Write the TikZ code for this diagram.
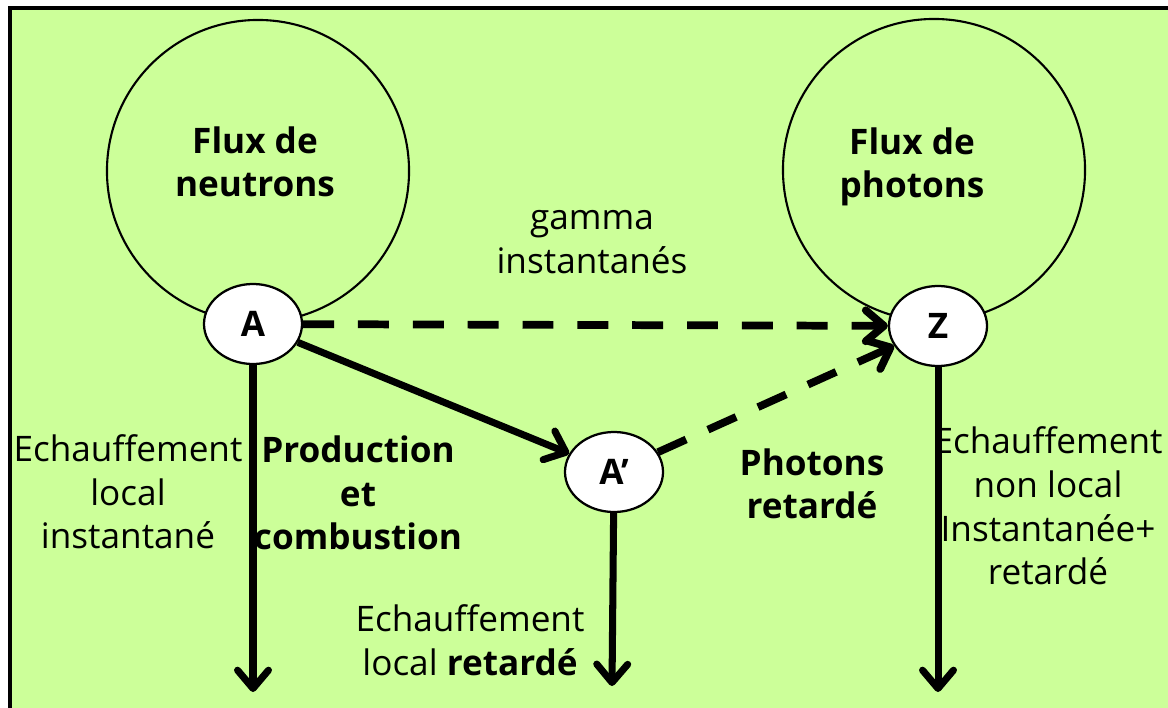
\documentclass[tikz,border=0pt]{standalone}
\usepackage{fontspec}
\setmainfont{Open Sans}
\usetikzlibrary{arrows.meta,shapes.geometric}

\definecolor{fond}{RGB}{204,255,153}

\begin{document}
\begin{tikzpicture}[x=0.025cm,y=-0.025cm,>={Straight Barb[round,length=13pt,width=22pt]},
  font=\fontsize{25}{31}\selectfont]

  \tikzstyle{flux}=[circle,draw=black,line width=1.5pt,minimum size=7.55cm,inner sep=0pt]
  \tikzstyle{titre}=[align=center,inner sep=0pt,font=\fontsize{25}{31}\selectfont\bfseries]
  \tikzstyle{noyau}=[ellipse,draw=black,line width=1.6pt,fill=white,minimum width=2.45cm,minimum height=2cm,inner sep=0pt,font=\fontsize{25}{31}\selectfont\bfseries]
  \tikzstyle{chaleur}=[->,line width=5pt]
  \tikzstyle{gamma}=[->,line width=5.5pt,dash pattern=on 22pt off 17pt]
  \tikzstyle{texte}=[align=center,inner sep=0pt]

  \useasboundingbox (0,0) rectangle (1168,708);
  \fill[fond] (10,8) rectangle (1168,708);
  \draw[line width=2.2pt] (10,712) -- (10,8) -- (1172,8);

  % les deux flux
  \node [flux] (fn) at (258,171) {};
  \node [flux] (fp) at (934,170) {};
  \node [titre] (tn) at (255,162) {Flux de\\neutrons};
  \node [titre] (tp) at (912,167) {Flux de\\photons};

  \node [noyau] (A)  at (253,324) {A};
  \node [noyau] (Z)  at (938,326) {Z};
  \node [noyau] (A2) at (614,472) {A’};

  \coordinate (bA)  at (253,692);
  \coordinate (bA2) at (612,686);
  \coordinate (bZ)  at (938,692);

  \draw [gamma] (A) -- (Z);
  \draw [chaleur] (A) -- (A2);
  \draw [gamma] (A2) -- (Z);
  \draw [chaleur] (A) -- (bA);
  \draw [chaleur] (A2) -- (bA2);
  \draw [chaleur] (Z) -- (bZ);

  \node [texte] (g)  at (592,242) {gamma\\instantanés};
  \node [texte] (e1) at (128,492) {Echauffement\\local\\instantané};
  \node [texte,font=\fontsize{25}{31}\selectfont\bfseries] (pc) at (358,493) {Production\\et\\combustion};
  \node [texte,font=\fontsize{25}{31}\selectfont\bfseries] (pr) at (812,484) {Photons\\retardé};
  \node [texte] (e3) at (1048,506) {Echauffement\\non local\\Instantanée+\\retardé};
  \node [texte] (e2) at (470,640) {Echauffement\\local \textbf{retardé}};

\end{tikzpicture}
\end{document}
